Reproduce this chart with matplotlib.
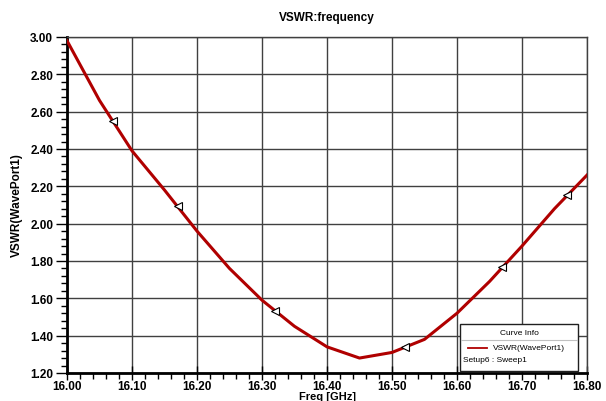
import matplotlib
matplotlib.use('Agg')
from matplotlib import pyplot as plt
from matplotlib.ticker import MultipleLocator, FormatStrFormatter
import numpy as np

plt.rcParams['font.family'] = ['Liberation Sans', 'DejaVu Sans']

# data
freq = [16.00, 16.05, 16.10, 16.15, 16.20, 16.25, 16.30, 16.35, 16.40,
        16.45, 16.50, 16.55, 16.60, 16.65, 16.70, 16.75, 16.80]
vswr = [2.98, 2.66, 2.39, 2.18, 1.96, 1.76, 1.59, 1.45, 1.34,
        1.28, 1.31, 1.38, 1.52, 1.69, 1.88, 2.08, 2.26]
marker_freq = [16.07, 16.17, 16.32, 16.52, 16.67, 16.77]

fig = plt.figure(figsize=(6.06, 4.02), dpi=100)
ax = fig.add_axes([0.1106, 0.0697, 0.858, 0.8358])

ax.plot(freq, vswr, color='#b00000', linewidth=2.2, zorder=3)

# direction markers along the curve
mk_y = np.interp(marker_freq, freq, vswr)
ax.plot(marker_freq, mk_y, linestyle='none', marker='<', markersize=6,
        markerfacecolor='white', markeredgecolor='black', markeredgewidth=0.8, zorder=4)

ax.set_xlim(16.0, 16.8)
ax.set_ylim(1.2, 3.0)
ax.xaxis.set_major_locator(MultipleLocator(0.1))
ax.xaxis.set_minor_locator(MultipleLocator(0.02))
ax.yaxis.set_major_locator(MultipleLocator(0.2))
ax.yaxis.set_minor_locator(MultipleLocator(0.04))
ax.xaxis.set_major_formatter(FormatStrFormatter('%.2f'))
ax.yaxis.set_major_formatter(FormatStrFormatter('%.2f'))

ax.grid(True, which='major', color='#404040', linewidth=1.0)
ax.set_axisbelow(True)

ax.tick_params(axis='x', which='major', direction='inout', length=10, width=1, labelsize=8.5, pad=0)
ax.tick_params(axis='x', which='minor', direction='out', length=4, width=1)
ax.tick_params(axis='y', which='major', direction='out', length=8, width=1, labelsize=8.5, pad=2)
ax.tick_params(axis='y', which='minor', direction='out', length=4, width=1)
for lab in ax.get_xticklabels() + ax.get_yticklabels():
    lab.set_fontweight('bold')

ax.spines['left'].set_linewidth(2)
ax.spines['bottom'].set_linewidth(2)
ax.spines['top'].set_linewidth(1)
ax.spines['right'].set_linewidth(1)
ax.spines['top'].set_color('#404040')
ax.spines['right'].set_color('#404040')

fig.text(0.5396, 0.955, 'VSWR:frequency', ha='center', va='center',
         fontsize=8.5, fontweight='bold')
fig.text(0.54, 0.0, 'Freq [GHz]', ha='center', va='bottom',
         fontsize=8, fontweight='bold')
fig.text(0.028, 0.49, 'VSWR(WavePort1)', ha='center', va='center',
         rotation=90, fontsize=8.5, fontweight='bold')

# curve info box
W, H = 606.0, 402.0
box = plt.Rectangle((460 / W, 1 - 372 / H), 118 / W, 47 / H, transform=fig.transFigure,
                    facecolor='white', edgecolor='#202020', linewidth=1.0, zorder=5)
fig.patches.append(box)
fig.add_artist(plt.Line2D([461 / W, 577 / W], [1 - 341 / H, 1 - 341 / H],
                          transform=fig.transFigure, color='#c0c0c0', linewidth=0.8, zorder=6))
fig.text(519 / W, 1 - 334 / H, 'Curve Info', ha='center', va='center', fontsize=6, zorder=6)
fig.add_artist(plt.Line2D([468 / W, 487 / W], [1 - 349 / H, 1 - 349 / H],
                          transform=fig.transFigure, color='#b00000', linewidth=1.3, zorder=6))
fig.text(493 / W, 1 - 349 / H, 'VSWR(WavePort1)', ha='left', va='center', fontsize=6, zorder=6)
fig.text(463 / W, 1 - 361 / H, 'Setup6 : Sweep1', ha='left', va='center', fontsize=6, zorder=6)

fig.savefig('out.png', dpi=100)
